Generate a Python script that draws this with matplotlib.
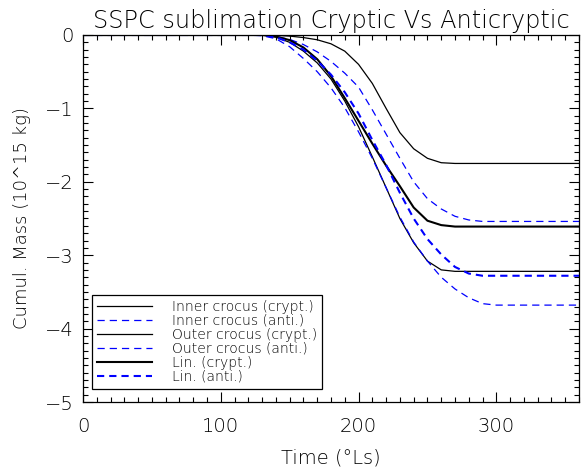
import matplotlib.pyplot as plt
from matplotlib.ticker import MultipleLocator

# solar longitude (deg Ls)
ls = [0, 100, 120, 130, 140, 150, 160, 170, 180, 190, 200, 210, 220, 230,
      240, 250, 260, 270, 280, 290, 300, 360]

# cumulated sublimated mass (10^15 kg)
inner_crypt = [0, 0, 0, 0, -0.005, -0.015, -0.035, -0.065, -0.12, -0.22, -0.40, -0.66,
               -1.00, -1.33, -1.55, -1.68, -1.74, -1.75, -1.75, -1.75, -1.75, -1.75]
inner_anti = [0, 0, 0, 0, -0.02, -0.06, -0.13, -0.23, -0.36, -0.52, -0.71, -1.02,
              -1.35, -1.68, -2.00, -2.23, -2.37, -2.47, -2.52, -2.54, -2.54, -2.54]
outer_crypt = [0, 0, 0, 0, -0.03, -0.10, -0.22, -0.38, -0.60, -0.90, -1.25, -1.66,
               -2.08, -2.50, -2.83, -3.08, -3.20, -3.22, -3.22, -3.22, -3.22, -3.22]
outer_anti = [0, 0, 0, -0.01, -0.05, -0.16, -0.32, -0.50, -0.72, -0.99, -1.32, -1.68,
              -2.08, -2.48, -2.82, -3.08, -3.30, -3.46, -3.58, -3.66, -3.68, -3.68]
lin_crypt = [0, 0, 0, 0, -0.02, -0.07, -0.17, -0.33, -0.56, -0.86, -1.17, -1.48,
             -1.78, -2.06, -2.35, -2.53, -2.59, -2.61, -2.61, -2.61, -2.61, -2.61]
lin_anti = [0, 0, 0, 0, -0.03, -0.10, -0.20, -0.35, -0.54, -0.78, -1.07, -1.43,
            -1.77, -2.15, -2.50, -2.78, -2.99, -3.16, -3.25, -3.28, -3.28, -3.28]

plt.rcParams['font.family'] = ['DejaVu Sans']
plt.rcParams['font.weight'] = 'light'
plt.rcParams['axes.titleweight'] = 'light'
plt.rcParams['axes.labelweight'] = 'light'
plt.rcParams['lines.scale_dashes'] = False

fig = plt.figure(figsize=(5.81, 4.68), dpi=100)
ax = fig.add_axes([83 / 581, 66 / 468, 496 / 581, 367 / 468])

dash = (5.2, 3.6)
ax.plot(ls, inner_crypt, color='black', lw=0.9, label='Inner crocus (crypt.)')
ax.plot(ls, inner_anti, color='blue', lw=0.9, dashes=dash, label='Inner crocus (anti.)')
ax.plot(ls, outer_crypt, color='black', lw=0.9, label='Outer crocus (crypt.)')
ax.plot(ls, outer_anti, color='blue', lw=0.9, dashes=dash, label='Outer crocus (anti.)')
ax.plot(ls, lin_crypt, color='black', lw=1.5, label='Lin. (crypt.)')
ax.plot(ls, lin_anti, color='blue', lw=1.5, dashes=dash, label='Lin. (anti.)')

ax.set_xlim(0, 360)
ax.set_ylim(-5, 0)
ax.xaxis.set_major_locator(MultipleLocator(100))
ax.xaxis.set_minor_locator(MultipleLocator(10))
ax.yaxis.set_major_locator(MultipleLocator(1))
ax.yaxis.set_minor_locator(MultipleLocator(0.1))
ax.tick_params(which='both', direction='in', top=True, right=True, width=0.8)
ax.tick_params(which='major', length=7, labelsize=14)
ax.tick_params(axis='x', which='major', pad=11)
ax.tick_params(axis='y', which='major', pad=7)
ax.tick_params(which='minor', length=3.5)
for s in ax.spines.values():
    s.set_linewidth(0.9)

ax.set_xlabel('Time (°Ls)', fontsize=14, labelpad=9)
ax.set_ylabel('Cumul. Mass (10^15 kg)', fontsize=13, labelpad=10)
ax.set_title('SSPC sublimation Cryptic Vs Anticryptic', fontsize=17.3, pad=5)

leg = ax.legend(loc='upper left', bbox_to_anchor=(92 / 581, 1 - 295 / 468),
                bbox_transform=fig.transFigure, fontsize=10, labelspacing=0.0,
                handlelength=4.0, handletextpad=1.4, borderpad=0.35,
                borderaxespad=0, fancybox=False, framealpha=1)
leg.get_frame().set_edgecolor('black')
leg.get_frame().set_linewidth(0.9)

fig.savefig('out.png', dpi=100)
